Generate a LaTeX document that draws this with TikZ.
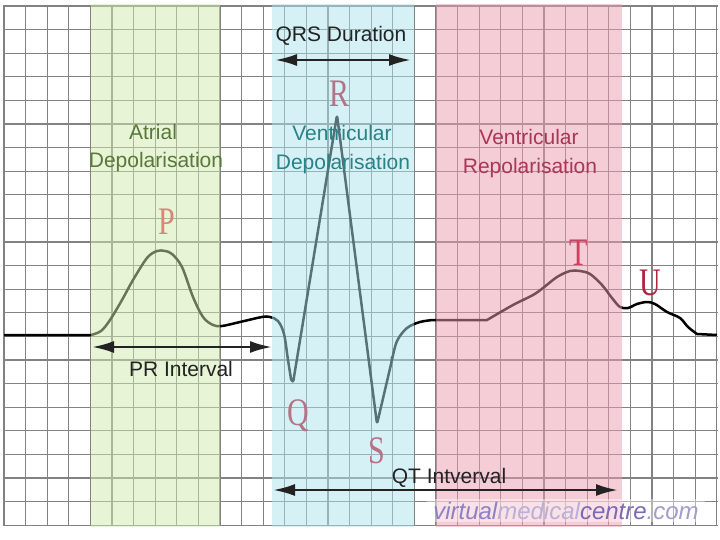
\documentclass[tikz,border=0pt]{standalone}
\usepackage{fontspec}
\setmainfont{Liberation Sans}
\newfontfamily\peakfont{Liberation Serif}
\usetikzlibrary{arrows.meta}

\definecolor{gridgray}{RGB}{130,130,130}
\definecolor{atrialgreen}{RGB}{209,235,173}
\definecolor{qrscyan}{RGB}{173,229,237}
\definecolor{repolpink}{RGB}{237,157,177}
\definecolor{atrialtext}{RGB}{90,120,60}
\definecolor{qrstext}{RGB}{40,130,135}
\definecolor{repoltext}{RGB}{170,55,85}
\definecolor{pcolor}{RGB}{215,135,120}
\definecolor{qrscolor}{RGB}{180,115,135}
\definecolor{tcolor}{RGB}{205,65,95}
\definecolor{ucolor}{RGB}{175,40,65}
\definecolor{arrowgray}{RGB}{35,35,35}
\definecolor{markA}{RGB}{140,130,195}
\definecolor{markB}{RGB}{185,175,215}
\definecolor{markC}{RGB}{125,105,180}
\definecolor{markD}{RGB}{165,155,205}

\begin{document}
\begin{tikzpicture}[x=1pt,y=-1pt]

\tikzstyle{gridline}=[draw={gridgray},line width={1.3pt}]
\tikzstyle{trace}=[draw={black},line width={2.5pt},line join={round}]
\tikzstyle{band}=[fill opacity={0.5}]
\tikzstyle{caption}=[anchor={base},inner sep={0pt},font={\fontsize{21}{25}\selectfont}]
\tikzstyle{peak}=[anchor={base},inner sep={0pt},font={\fontsize{30}{30}\peakfont}]
\tikzstyle{interval}=[arrows={Latex[length=22pt,width=12pt]-Latex[length=22pt,width=12pt]},line width={2.6pt},draw={arrowgray}]

\useasboundingbox (0,0) rectangle (720,540) ;
\fill [white] (0,0) rectangle (720,540) ;

% paper: grid

\foreach \i in {0,...,33} \draw [gridline] (4+21.6*\i,5) -- (4+21.6*\i,526) ;
\foreach \j in {0,...,22} \draw [gridline] (3,6+23.6*\j) -- (718,6+23.6*\j) ;

% trace: P, QRS, T and U

\draw [trace] (4,335) -- (91,335)
  -- plot [smooth,tension={0.55}] coordinates {(91,335) (101,331) (110,320) (122,300) (133,280) (147,258) (157,251) (165,251) (172,254) (182,267) (193,297) (203,317) (213,325) (222,326) (240,322) (262,317) (270,317) (278,321) (284,334) (288,360) (291,379)}
  [rounded corners={3pt}] -- (293,383) -- (337,115) -- (377,424) -- (392,360) [sharp corners]
  -- plot [smooth,tension={0.55}] coordinates {(392,360) (397,341) (407,328) (420,322) (433,320)}
  -- (487,320)
  -- plot [smooth,tension={0.55}] coordinates {(487,320) (513,305) (533,295) (543,288) (557,277) (570,271) (580,271) (590,274) (602,285) (612,298) (620,307) (628,308) (637,304) (647,302) (655,304) (667,312) (680,318) (688,327) (697,334)}
  -- (717,335) ;

% bands

\fill [band,fill={atrialgreen}] (91,4) rectangle (220,527) ;
\fill [band,fill={qrscyan}] (272,4) rectangle (414,527) ;
\fill [band,fill={repolpink}] (436,4) rectangle (622,527) ;

% intervals

\coordinate (QRSa) at (275,60) ;
\coordinate (QRSb) at (411,60) ;
\coordinate (PRa) at (92,347) ;
\coordinate (PRb) at (272,347) ;
\coordinate (QTa) at (273,490) ;
\coordinate (QTb) at (618,490) ;

\draw [interval] (QRSa) -- (QRSb) ;
\draw [interval] (PRa) -- (PRb) ;
\draw [interval] (QTa) -- (QTb) ;

\node at (341,42) [caption,text={arrowgray}] (QRS) {QRS Duration} ;
\node at (181,376) [caption,text={arrowgray}] (PR) {PR Interval} ;
\node at (449,483) [caption,text={arrowgray}] (QT) {QT Intverval} ;

% phases

\node at (153,140) [caption,text={atrialtext}] (AD1) {Atrial} ;
\node at (156,168) [caption,text={atrialtext}] (AD2) {Depolarisation} ;
\node at (342,141) [caption,text={qrstext}] (VD1) {Ventricular} ;
\node at (343,170) [caption,text={qrstext}] (VD2) {Depolarisation} ;
\node at (529,145) [caption,text={repoltext}] (VR1) {Ventricular} ;
\node at (530,174) [caption,text={repoltext}] (VR2) {Repolarisation} ;

% waves

\node at (167,235) [peak,text={pcolor}] (P) {\scalebox{1}[1.3]{P}} ;
\node at (340,107) [peak,text={qrscolor}] (R) {\scalebox{1}[1.3]{R}} ;
\node at (298,425) [peak,text={qrscolor}] (Q) {\scalebox{1}[1.3]{Q}} ;
\node at (377,463) [peak,text={qrscolor}] (S) {\scalebox{1}[1.3]{S}} ;
\node at (579,265) [peak,text={tcolor}] (T) {\scalebox{1}[1.3]{T}} ;
\node at (650,295) [peak,text={ucolor}] (U) {\scalebox{1}[1.3]{U}} ;

% mark

\node at (566,519) [anchor={base},fill={white},fill opacity={0.4},text opacity={1},inner xsep={6pt},inner ysep={3pt},font={\fontsize{24}{24}\selectfont\itshape}] (WM) {\textcolor{markA}{virtual}\textcolor{markB}{medical}\textcolor{markC}{centre}\textcolor{markD}{.com}} ;

\end{tikzpicture}
\end{document}
